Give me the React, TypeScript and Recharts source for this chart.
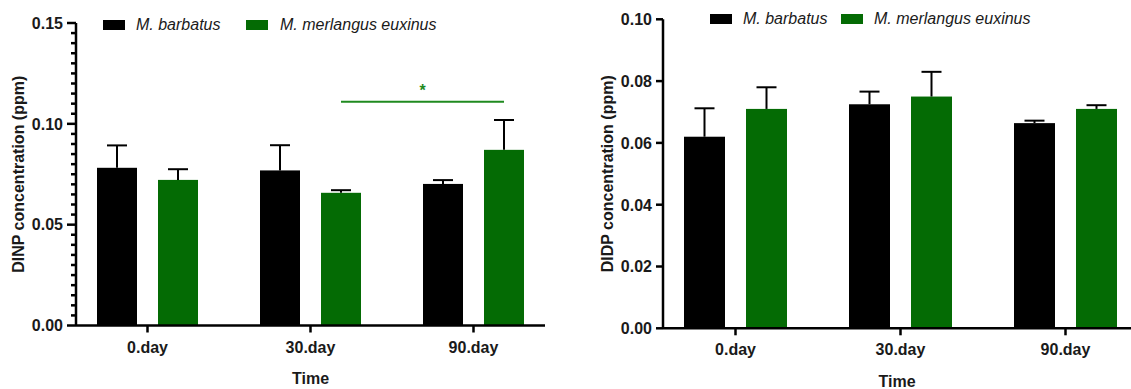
import { BarChart, Bar, XAxis, YAxis, Legend, ReferenceLine } from 'recharts';

const categories = ['0.day', '30.day', '90.day'];
const seriesNames = ['M. barbatus', 'M. merlangus euxinus'];
const seriesColors = ['#000000', '#046b04'];

// DINP (left panel)
const dinpBarbatus = [0.0782, 0.0769, 0.0702];
const dinpBarbatusSd = [0.0111, 0.0125, 0.0019];
const dinpMerlangus = [0.0722, 0.0658, 0.0871];
const dinpMerlangusSd = [0.0053, 0.0013, 0.0148];
const dinpTicks = [0, 0.05, 0.1, 0.15];
const dinpMinorTicks = Array.from({ length: 31 }, (_, i) => +(i * 0.005).toFixed(3));
const dinpSignificance = 0.111;

// DIDP (right panel)
const didpBarbatus = [0.062, 0.0725, 0.0664];
const didpBarbatusSd = [0.0092, 0.0041, 0.0008];
const didpMerlangus = [0.071, 0.075, 0.071];
const didpMerlangusSd = [0.007, 0.008, 0.0012];
const didpTicks = [0, 0.02, 0.04, 0.06, 0.08, 0.1];

const FONT = 'Liberation Sans, Arial, Helvetica, sans-serif';
const TEXT = '#1a1a1a';

const build = (a: number[], aSd: number[], b: number[], bSd: number[]) =>
  categories.map((name, i) => ({ name, a: a[i], aSd: aSd[i], b: b[i], bSd: bSd[i] }));

const dinpData = build(dinpBarbatus, dinpBarbatusSd, dinpMerlangus, dinpMerlangusSd);
const didpData = build(didpBarbatus, didpBarbatusSd, didpMerlangus, didpMerlangusSd);

// bar with an upward-only error bar, scale taken from the bar itself
const barWithError = (key: 'a' | 'b', sdKey: 'aSd' | 'bSd') => (props: any) => {
  const { x, y, width, height, fill, payload } = props;
  const pxPerUnit = height / payload[key];
  const top = y - payload[sdKey] * pxPerUnit;
  const cx = x + width / 2;
  return (
    <g>
      <rect x={x} y={y} width={width} height={height} fill={fill} />
      <line x1={cx} y1={y} x2={cx} y2={top} stroke="#000" strokeWidth={2} />
      <line x1={cx - 10} y1={top} x2={cx + 10} y2={top} stroke="#000" strokeWidth={2} />
    </g>
  );
};

const makeYTick = (majors: number[], majorLen: number, minorLen: number, gap: number) => (props: any) => {
  const { x, y, payload } = props;
  const isMajor = majors.some((m) => Math.abs(m - payload.value) < 1e-9);
  const len = isMajor ? majorLen : minorLen;
  return (
    <g>
      <line x1={x - len} y1={y} x2={x} y2={y} stroke="#000" strokeWidth={2.5} />
      {isMajor && (
        <text x={x - gap} y={y} dy={5.8} textAnchor="end" fontSize={16} fontWeight="bold" fill={TEXT} fontFamily={FONT}>
          {payload.value.toFixed(2)}
        </text>
      )}
    </g>
  );
};

const makeLegend = (rect2: number, text1: number, text2: number) => () => (
  <div style={{ position: 'relative', height: 20, fontFamily: FONT, fontSize: 16, fontStyle: 'italic', color: TEXT }}>
    {seriesNames.map((n, i) => (
      <div key={n} style={{ position: 'absolute', left: i === 0 ? 0 : rect2, top: 0, display: 'flex', alignItems: 'center', height: 20 }}>
        <span style={{ display: 'inline-block', width: 22, height: 10, background: seriesColors[i] }} />
        <span style={{ marginLeft: (i === 0 ? text1 : text2) - 22, whiteSpace: 'nowrap' }}>{n}</span>
      </div>
    ))}
  </div>
);

const SigLine = (offset: number) => (props: any) => {
  const { x1, y1, x2, y2 } = props;
  const ax = x1 + offset;
  const bx = x2 + offset;
  return (
    <g>
      <line x1={ax} y1={y1} x2={bx} y2={y2} stroke="#1f8a1f" strokeWidth={2} />
      <text x={(ax + bx) / 2} y={y1 - 6} textAnchor="middle" fontSize={16} fontWeight="bold" fill="#1f8a1f" fontFamily={FONT}>
        *
      </text>
    </g>
  );
};

const axisText = { fontSize: 16, fontWeight: 'bold', fill: TEXT, fontFamily: FONT } as const;

const DinpChart = () => (
  <BarChart width={565} height={389} data={dinpData} margin={{ top: 23, right: 20, bottom: 3.5, left: 0 }} barSize={40} barGap={21}>
    <XAxis
      dataKey="name"
      height={60}
      padding={{ left: -10, right: -10 }}
      axisLine={{ stroke: '#000', strokeWidth: 2.5 }}
      tickLine={{ stroke: '#000', strokeWidth: 2.5 }}
      tickSize={7}
      tickMargin={9}
      tick={axisText}
      label={{ value: 'Time', position: 'insideBottom', offset: 2, ...axisText, style: axisText }}
    />
    <YAxis
      width={76}
      domain={[0, 0.15]}
      ticks={dinpMinorTicks}
      interval={0}
      tickSize={0}
      tickMargin={0}
      tickLine={false}
      axisLine={{ stroke: '#000', strokeWidth: 2.5 }}
      tick={makeYTick(dinpTicks, 9, 5, 13)}
      label={{
        value: 'DINP concentration (ppm)',
        angle: -90,
        position: 'insideLeft',
        offset: 18,
        ...axisText,
        style: { ...axisText, textAnchor: 'middle' },
      }}
    />
    <Legend verticalAlign="middle" wrapperStyle={{ top: 15, left: 103, width: 'auto' }} content={makeLegend(143, 33, 34)} />
    <ReferenceLine
      segment={[{ x: '30.day', y: dinpSignificance }, { x: '90.day', y: dinpSignificance }]}
      shape={SigLine(30.5)}
    />
    <Bar dataKey="a" name={seriesNames[0]} fill={seriesColors[0]} isAnimationActive={false} shape={barWithError('a', 'aSd')} />
    <Bar dataKey="b" name={seriesNames[1]} fill={seriesColors[1]} isAnimationActive={false} shape={barWithError('b', 'bSd')} />
  </BarChart>
);

const DidpChart = () => (
  <BarChart width={561} height={389} data={didpData} margin={{ top: 19.3, right: 0, bottom: 2.7, left: 0 }} barSize={41} barGap={21}>
    <XAxis
      dataKey="name"
      height={58}
      padding={{ left: -10, right: -17 }}
      axisLine={{ stroke: '#000', strokeWidth: 2.5 }}
      tickLine={{ stroke: '#000', strokeWidth: 2.5 }}
      tickSize={7}
      tickMargin={8}
      tick={axisText}
      label={{ value: 'Time', position: 'insideBottom', offset: -1, ...axisText, style: axisText }}
    />
    <YAxis
      width={93}
      domain={[0, 0.1]}
      ticks={didpTicks}
      interval={0}
      tickSize={0}
      tickMargin={0}
      tickLine={false}
      axisLine={{ stroke: '#000', strokeWidth: 2.5 }}
      tick={makeYTick(didpTicks, 7, 7, 11)}
      label={{
        value: 'DIDP concentration (ppm)',
        angle: -90,
        position: 'insideLeft',
        offset: 37,
        ...axisText,
        style: { ...axisText, textAnchor: 'middle' },
      }}
    />
    <Legend verticalAlign="middle" wrapperStyle={{ top: 9, left: 140, width: 'auto' }} content={makeLegend(131, 33, 33)} />
    <Bar dataKey="a" name={seriesNames[0]} fill={seriesColors[0]} isAnimationActive={false} shape={barWithError('a', 'aSd')} />
    <Bar dataKey="b" name={seriesNames[1]} fill={seriesColors[1]} isAnimationActive={false} shape={barWithError('b', 'bSd')} />
  </BarChart>
);

export default function App() {
  return (
    <div style={{ position: 'absolute', left: 0, top: 0, width: 1131, height: 389, background: '#fff', overflow: 'hidden' }}>
      <div style={{ position: 'absolute', left: 0, top: 0 }}>
        <DinpChart />
      </div>
      <div style={{ position: 'absolute', left: 570, top: 0 }}>
        <DidpChart />
      </div>
    </div>
  );
}
